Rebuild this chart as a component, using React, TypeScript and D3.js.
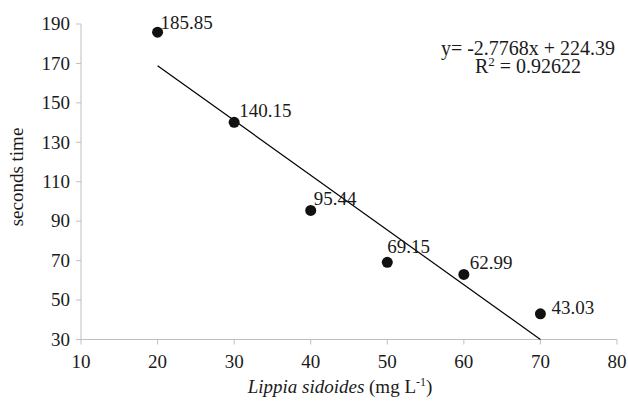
import React, { useEffect, useRef } from 'react';
import * as d3 from 'd3';

// concentration (mg L-1) and time in seconds
const doses = [20, 30, 40, 50, 60, 70];
const seconds = [185.85, 140.15, 95.44, 69.15, 62.99, 43.03];
const labels = ['185.85', '140.15', '95.44', '69.15', '62.99', '43.03'];
// label nudges (dx, dy) per point
const nudges = [[3, -3], [5, -5], [3, -5], [0, -9], [6, -5], [11, 0]];

const xTicks = [10, 20, 30, 40, 50, 60, 70, 80];
const yTicks = [30, 50, 70, 90, 110, 130, 150, 170, 190];

const slope = -2.7768;
const intercept = 224.39;
const eqText = 'y= -2.7768x + 224.39';
const r2Text = '0.92622';

const App = () => {
    const ref = useRef<SVGSVGElement>(null);

    useEffect(() => {
        const width = 628;
        const height = 404;
        const font = '"Liberation Serif", "Times New Roman", serif';
        const axisColor = '#bfbfbf';

        const x = d3.scaleLinear().domain([10, 80]).range([81, 617]);
        const y = d3.scaleLinear().domain([30, 190]).range([339.5, 24]);

        const svg = d3.select(ref.current)
            .attr('width', width)
            .attr('height', height)
            .attr('font-family', font);

        svg.selectAll('*').remove();

        // axes
        svg.append('line')
            .attr('x1', x(10)).attr('x2', x(10))
            .attr('y1', y(190)).attr('y2', y(30))
            .attr('stroke', axisColor);
        svg.append('line')
            .attr('x1', x(10)).attr('x2', x(80))
            .attr('y1', y(30)).attr('y2', y(30))
            .attr('stroke', axisColor);

        const yg = svg.append('g');
        yg.selectAll('line')
            .data(yTicks)
            .join('line')
            .attr('x1', x(10) - 5).attr('x2', x(10))
            .attr('y1', d => y(d)).attr('y2', d => y(d))
            .attr('stroke', axisColor);
        yg.selectAll('text')
            .data(yTicks)
            .join('text')
            .attr('x', x(10) - 11)
            .attr('y', d => y(d))
            .attr('dy', '0.33em')
            .attr('text-anchor', 'end')
            .attr('font-size', 19)
            .attr('fill', '#1a1a1a')
            .text(d => d);

        const xg = svg.append('g');
        xg.selectAll('line')
            .data(xTicks)
            .join('line')
            .attr('x1', d => x(d)).attr('x2', d => x(d))
            .attr('y1', y(30)).attr('y2', y(30) + 5)
            .attr('stroke', axisColor);
        xg.selectAll('text')
            .data(xTicks)
            .join('text')
            .attr('x', d => x(d))
            .attr('y', 368)
            .attr('text-anchor', 'middle')
            .attr('font-size', 19)
            .attr('fill', '#1a1a1a')
            .text(d => d);

        // trend line
        svg.append('line')
            .attr('x1', x(20)).attr('y1', y(slope * 20 + intercept))
            .attr('x2', x(70)).attr('y2', y(slope * 70 + intercept))
            .attr('stroke', '#000')
            .attr('stroke-width', 1.2);

        // points
        svg.append('g')
            .selectAll('circle')
            .data(doses)
            .join('circle')
            .attr('cx', d => x(d))
            .attr('cy', (d, i) => y(seconds[i]))
            .attr('r', 5.5)
            .attr('fill', '#111');

        svg.append('g')
            .selectAll('text')
            .data(doses)
            .join('text')
            .attr('x', (d, i) => x(d) + nudges[i][0])
            .attr('y', (d, i) => y(seconds[i]) + nudges[i][1])
            .attr('font-size', 19)
            .attr('fill', '#1a1a1a')
            .text((d, i) => labels[i]);

        // equation
        svg.append('text')
            .attr('x', 528).attr('y', 55)
            .attr('text-anchor', 'middle')
            .attr('font-size', 20)
            .attr('fill', '#1a1a1a')
            .text(eqText);
        const r2 = svg.append('text')
            .attr('x', 528).attr('y', 73)
            .attr('text-anchor', 'middle')
            .attr('font-size', 20)
            .attr('fill', '#1a1a1a');
        r2.append('tspan').text('R');
        r2.append('tspan').attr('font-size', 13).attr('dy', -7).text('2');
        r2.append('tspan').attr('dy', 7).text(' = ' + r2Text);

        // axis titles
        svg.append('text')
            .attr('transform', 'translate(17,177) rotate(-90)')
            .attr('dy', '0.33em')
            .attr('text-anchor', 'middle')
            .attr('font-size', 19)
            .attr('fill', '#1a1a1a')
            .text('seconds time');

        const xt = svg.append('text')
            .attr('x', 340).attr('y', 393)
            .attr('text-anchor', 'middle')
            .attr('font-size', 19)
            .attr('fill', '#1a1a1a');
        xt.append('tspan').attr('font-style', 'italic').text('Lippia sidoides');
        xt.append('tspan').text(' (mg L');
        xt.append('tspan').attr('font-size', 12).attr('dy', -7).text('-1');
        xt.append('tspan').attr('dy', 7).text(')');
    }, []);

    return (
        <svg ref={ref} style={{ position: 'absolute', left: 0, top: 0, background: '#fff' }}></svg>
    );
};

export default App;
